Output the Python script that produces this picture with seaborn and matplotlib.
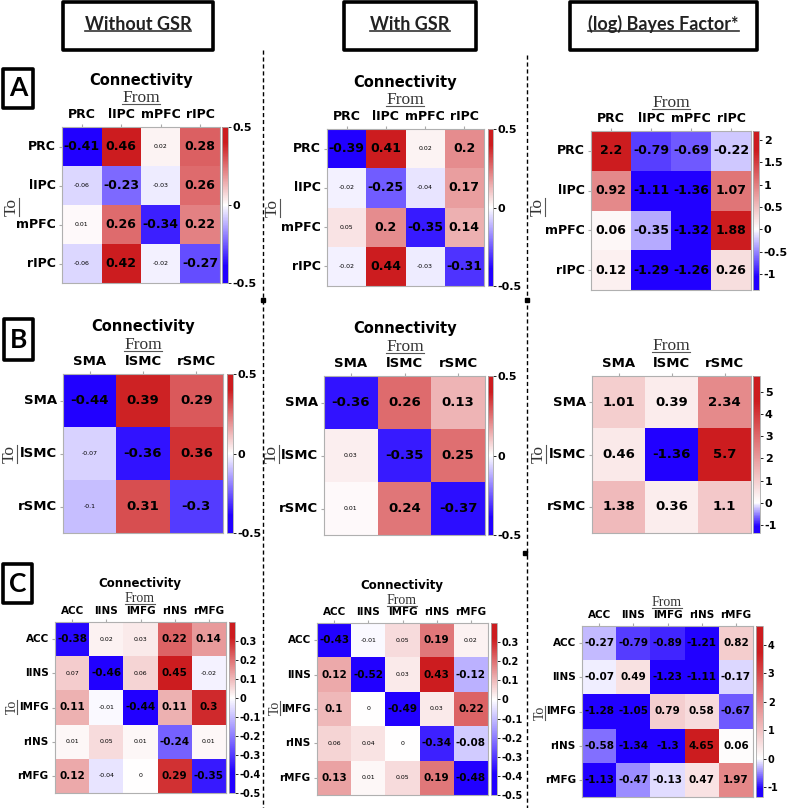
import numpy as np
import pandas as pd
import matplotlib
matplotlib.use('Agg')
import matplotlib.pyplot as plt
import seaborn as sns
from matplotlib.colors import LinearSegmentedColormap
from matplotlib.patches import Rectangle
from matplotlib.lines import Line2D

W, H = 789, 808

# ---- data ----
regions_a = ['PRC', 'lIPC', 'mPFC', 'rIPC']
regions_b = ['SMA', 'lSMC', 'rSMC']
regions_c = ['ACC', 'lINS', 'lMFG', 'rINS', 'rMFG']

conn_a_nogsr = [[-0.41, 0.46, 0.02, 0.28],
                [-0.06, -0.23, -0.03, 0.26],
                [0.01, 0.26, -0.34, 0.22],
                [-0.06, 0.42, -0.02, -0.27]]
conn_a_gsr = [[-0.39, 0.41, 0.02, 0.2],
              [-0.02, -0.25, -0.04, 0.17],
              [0.05, 0.2, -0.35, 0.14],
              [-0.02, 0.44, -0.03, -0.31]]
bf_a = [[2.2, -0.79, -0.69, -0.22],
        [0.92, -1.11, -1.36, 1.07],
        [0.06, -0.35, -1.32, 1.88],
        [0.12, -1.29, -1.26, 0.26]]

conn_b_nogsr = [[-0.44, 0.39, 0.29],
                [-0.07, -0.36, 0.36],
                [-0.1, 0.31, -0.3]]
conn_b_gsr = [[-0.36, 0.26, 0.13],
              [0.03, -0.35, 0.25],
              [0.01, 0.24, -0.37]]
bf_b = [[1.01, 0.39, 2.34],
        [0.46, -1.36, 5.7],
        [1.38, 0.36, 1.1]]

conn_c_nogsr = [[-0.38, 0.02, 0.03, 0.22, 0.14],
                [0.07, -0.46, 0.06, 0.45, -0.02],
                [0.11, -0.01, -0.44, 0.11, 0.3],
                [0.01, 0.05, 0.01, -0.24, 0.01],
                [0.12, -0.04, 0, 0.29, -0.35]]
conn_c_gsr = [[-0.43, -0.01, 0.05, 0.19, 0.02],
              [0.12, -0.52, 0.03, 0.43, -0.12],
              [0.1, 0, -0.49, 0.03, 0.22],
              [0.06, 0.04, 0, -0.34, -0.08],
              [0.13, 0.01, 0.05, 0.19, -0.48]]
bf_c = [[-0.27, -0.79, -0.89, -1.21, 0.82],
        [-0.07, 0.49, -1.23, -1.11, -0.17],
        [-1.28, -1.05, 0.79, 0.58, -0.67],
        [-0.58, -1.34, -1.3, 4.65, 0.06],
        [-1.13, -0.47, -0.13, 0.47, 1.97]]

# 1 = shown large/bold (significant), 0 = small
sig_a_nogsr = [[1, 1, 0, 1], [0, 1, 0, 1], [0, 1, 1, 1], [0, 1, 0, 1]]
sig_a_gsr = [[1, 1, 0, 1], [0, 1, 0, 1], [0, 1, 1, 1], [0, 1, 0, 1]]
sig_b_nogsr = [[1, 1, 1], [0, 1, 1], [0, 1, 1]]
sig_b_gsr = [[1, 1, 1], [0, 1, 1], [0, 1, 1]]
sig_c_nogsr = [[1, 0, 0, 1, 1], [0, 1, 0, 1, 0], [1, 0, 1, 1, 1],
               [0, 0, 0, 1, 0], [1, 0, 0, 1, 1]]
sig_c_gsr = [[1, 0, 0, 1, 0], [1, 1, 0, 1, 1], [1, 0, 1, 0, 1],
             [0, 0, 0, 1, 1], [1, 0, 0, 1, 1]]

cbar_ticks_ab = [-0.5, 0, 0.5]
cbar_ticks_c = [-0.5, -0.4, -0.3, -0.2, -0.1, 0, 0.1, 0.2, 0.3]
cbar_ticks_bf_a = [-1, -0.5, 0, 0.5, 1, 1.5, 2]
cbar_ticks_bf_b = [-1, 0, 1, 2, 3, 4, 5]
cbar_ticks_bf_c = [-1, 0, 1, 2, 3, 4]

headers = ['Without GSR', 'With GSR', '(log) Bayes Factor*']

plt.rcParams['font.family'] = 'DejaVu Sans'

BLUE = (0.13, 0.0, 1.0)
RED = (0.80, 0.11, 0.12)


def make_cmap(vmin, vmax):
    z = -vmin / (vmax - vmin)
    nodes = [(0.0, BLUE), (0.22 * z, BLUE), (z, (1, 1, 1)),
             (z + 0.8 * (1 - z), RED), (1.0, RED)]
    return LinearSegmentedColormap.from_list('bwr_custom', nodes)


def px_rect(l, t, r, b):
    return [l / W, 1 - b / H, (r - l) / W, (b - t) / H]


fig = plt.figure(figsize=(W / 100, H / 100), dpi=100)

underline_h = []
underline_v = []


def draw_panel(vals, names, hm, cb, vmin, vmax, ticks, sig, fs, ts, cs,
               title=None, frm=None, to=None, frm_fs=12.5, title_fs=10.5):
    ax = fig.add_axes(px_rect(*hm))
    cax = fig.add_axes(px_rect(*cb))
    df = pd.DataFrame(vals, index=names, columns=names)
    sns.heatmap(df, ax=ax, cbar_ax=cax, cmap=make_cmap(vmin, vmax),
                vmin=vmin, vmax=vmax, annot=True, fmt='g',
                annot_kws=dict(color='black', fontweight='bold', fontsize=fs))
    flat_sig = np.array(sig).flatten() if sig is not None else np.ones(df.size)
    for txt, s in zip(ax.texts, flat_sig):
        if not s:
            txt.set_fontsize(4.5)
            txt.set_fontweight('normal')
    ax.tick_params(axis='x', top=True, bottom=False, labeltop=True,
                   labelbottom=False, length=2.5, color='#aaaaaa', pad=2)
    ax.tick_params(axis='y', length=2.5, color='#aaaaaa', pad=2)
    ax.set_xticklabels(names, rotation=0, fontsize=ts, fontweight='bold')
    ax.set_yticklabels(names, rotation=0, fontsize=ts, fontweight='bold')
    ax.set_xlabel('')
    ax.set_ylabel('')
    for sp in ax.spines.values():
        sp.set_visible(True)
        sp.set_color('#b0b0b0')
        sp.set_linewidth(0.8)
    cbar = ax.collections[0].colorbar
    cbar.set_ticks(ticks)
    cbar.set_ticklabels([f'{t:g}' for t in ticks])
    cax.tick_params(labelsize=cs, length=2, width=0.6, pad=1.5)
    for lab in cax.get_yticklabels():
        lab.set_fontweight('bold')
    cbar.outline.set_edgecolor('#aaaaaa')
    cbar.outline.set_linewidth(0.6)

    if title is not None:
        fig.text(title[0] / W, 1 - title[1] / H, 'Connectivity', ha='center',
                 va='center', fontsize=title_fs, fontweight='bold')
    t = fig.text(frm[0] / W, 1 - frm[1] / H, 'From', ha='center',
                 va='center', fontsize=frm_fs, color='#333333',
                 family='Liberation Serif')
    underline_h.append((t, 1.8, 0.8, '#555555'))
    t = fig.text(to[0] / W, 1 - to[1] / H, 'To', ha='center',
                 va='center', fontsize=frm_fs, rotation=90, color='#333333',
                 family='Liberation Serif')
    underline_v.append(t)


# Row A
draw_panel(conn_a_nogsr, regions_a, (62, 127, 220, 283), (222, 127, 228, 283),
           -0.5, 0.5, cbar_ticks_ab, sig_a_nogsr, 9, 9, 8,
           title=(141, 81), frm=(141, 98), to=(12, 207))
draw_panel(conn_a_gsr, regions_a, (327, 129, 484, 286), (488, 129, 493, 286),
           -0.5, 0.5, cbar_ticks_ab, sig_a_gsr, 9, 9, 8,
           title=(405, 83), frm=(405, 100), to=(273, 208))
draw_panel(bf_a, regions_a, (591, 131, 751, 290), (753, 131, 759, 290),
           -1.36, 2.2, cbar_ticks_bf_a, None, 9, 9, 8,
           frm=(671, 103), to=(538, 207))

# Row B
draw_panel(conn_b_nogsr, regions_b, (63, 374, 223, 533), (227, 374, 233, 533),
           -0.5, 0.5, cbar_ticks_ab, sig_b_nogsr, 9.5, 9.5, 8,
           title=(143, 327), frm=(143, 345), to=(10, 454))
draw_panel(conn_b_gsr, regions_b, (324, 376, 485, 535), (488, 376, 493, 535),
           -0.5, 0.5, cbar_ticks_ab, sig_b_gsr, 9.5, 9.5, 8,
           title=(405, 329), frm=(405, 347), to=(272, 454))
draw_panel(bf_b, regions_b, (592, 376, 751, 533), (753, 376, 760, 533),
           -1.36, 5.7, cbar_ticks_bf_b, None, 9.5, 9.5, 8,
           frm=(671, 346), to=(539, 454))

# Row C
draw_panel(conn_c_nogsr, regions_c, (55, 622, 226, 793), (229, 622, 235, 793),
           -0.5, 0.4, cbar_ticks_c, sig_c_nogsr, 7.5, 7.5, 7,
           title=(140, 584), frm=(140, 599), to=(12, 707), frm_fs=10, title_fs=8.5)
draw_panel(conn_c_gsr, regions_c, (317, 623, 488, 795), (491, 623, 497, 795),
           -0.5, 0.4, cbar_ticks_c, sig_c_gsr, 7.5, 7.5, 7,
           title=(402, 586), frm=(402, 601), to=(275, 708), frm_fs=10, title_fs=8.5)
draw_panel(bf_c, regions_c, (582, 626, 753, 797), (756, 626, 763, 797),
           -1.34, 4.65, cbar_ticks_bf_c, None, 7.5, 7.5, 7,
           frm=(667, 603), to=(540, 713), frm_fs=10)

# dashed separators
for x, y0 in [(263, 50), (527, 55)]:
    fig.add_artist(Line2D([x / W, x / W], [1 - y0 / H, 0], transform=fig.transFigure,
                          color='black', lw=1.0, linestyle=(0, (3, 2))))
for x, y in [(263, 300), (527, 300), (525, 553)]:
    fig.add_artist(Rectangle(((x - 2) / W, 1 - (y + 2) / H), 4 / W, 4 / H,
                             transform=fig.transFigure, color='black'))

# header boxes
for (l, r), txt in zip([(63, 213), (344, 476), (570, 757)], headers):
    fig.add_artist(Rectangle((l / W, 1 - 50 / H), (r - l) / W, 48 / H,
                             transform=fig.transFigure, fill=False,
                             edgecolor='black', lw=2.6, joinstyle='round'))
    t = fig.text((l + r) / 2 / W, 1 - 24 / H, txt, ha='center', va='center',
                 fontsize=13, fontweight='bold', family='Lato', color='#222222')
    underline_h.append((t, 2.0, 1.2, '#333333'))

# row letter boxes
for (l, tp, r, b), letter in zip([(3, 69, 33, 108), (4, 319, 33, 360), (3, 564, 32, 603)],
                                 ['A', 'B', 'C']):
    fig.add_artist(Rectangle((l / W, 1 - b / H), (r - l) / W, (b - tp) / H,
                             transform=fig.transFigure, fill=False,
                             edgecolor='black', lw=2.6, joinstyle='round'))
    fig.text((l + r) / 2 / W, 1 - (tp + b) / 2 / H, letter, ha='center', va='center',
             fontsize=19, fontweight='bold', family='Lato')

# underlines
fig.canvas.draw()
rend = fig.canvas.get_renderer()
for t, off, lw, col in underline_h:
    bb = t.get_window_extent(rend)
    y = (bb.y0 + off) / H
    fig.add_artist(Line2D([bb.x0 / W, bb.x1 / W], [y, y], transform=fig.transFigure,
                          color=col, lw=lw))
for t in underline_v:
    bb = t.get_window_extent(rend)
    x = (bb.x1 - 1.2) / W
    fig.add_artist(Line2D([x, x], [bb.y0 / H, bb.y1 / H], transform=fig.transFigure,
                          color='#555555', lw=0.8))

fig.savefig('out.png', dpi=100)
